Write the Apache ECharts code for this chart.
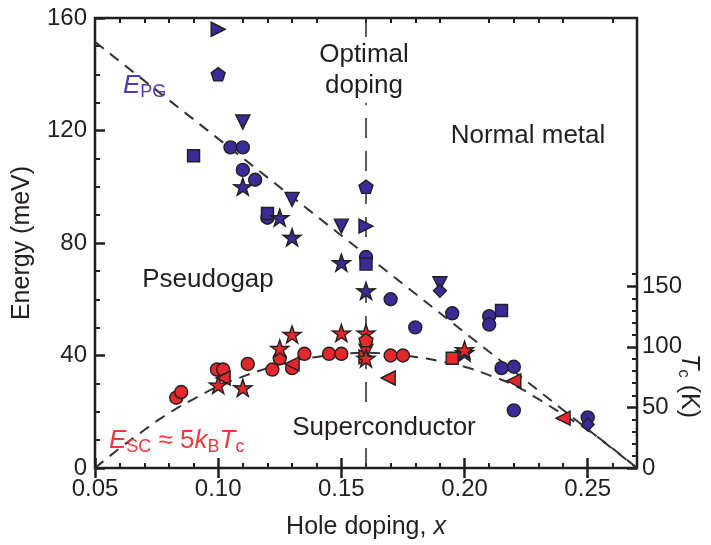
<!DOCTYPE html>
<html><head><meta charset="utf-8">
<script src="https://cdn.jsdelivr.net/npm/echarts@6/dist/echarts.min.js"></script>
<style>html,body{margin:0;padding:0;background:#fff}#c{width:711px;height:545px}</style>
</head><body><div id="c"></div>
<script>
const FONT = '"Liberation Sans", Arial, Helvetica, sans-serif';
const INK = '#231f20';
const BLUE = '#3a2b99';
const BLUE_TXT = '#4a3db4';
const RED = '#e3292b';
const RED_TXT = '#ea3a3f';

// axis ranges
const xMin = 0.05, xMax = 0.27;
const eMin = 0, eMax = 160;
const kB = 0.08617; // meV per K
const tcMax = eMax / (5 * kB);

// tick values
const xMajorTicks = [0.05, 0.10, 0.15, 0.20, 0.25];
const xMinorTicks = [0.06, 0.07, 0.08, 0.09, 0.11, 0.12, 0.13, 0.14, 0.16, 0.17, 0.18, 0.19, 0.21, 0.22, 0.23, 0.24, 0.26];
const tcMajorTicks = [0, 50, 100, 150];
const tcMinorTicks = [10, 20, 30, 40, 60, 70, 80, 90, 110, 120, 130, 140, 160];

// guide lines
const pgLine = [[0.05, 151.5], [0.27, 0]];
const scCurve = [[0.05, 0], [0.06, 7], [0.07, 13.5], [0.08, 19.5], [0.09, 24.5], [0.10, 29], [0.11, 32.5], [0.12, 35.5], [0.13, 38], [0.14, 39.5], [0.15, 40.5], [0.16, 41], [0.17, 40.5], [0.18, 39.5], [0.19, 38], [0.20, 36], [0.21, 33], [0.22, 29.5], [0.23, 24.5], [0.24, 19], [0.25, 13.5], [0.26, 7], [0.27, 0]];
const optimalDoping = 0.16;

// pseudogap energies (blue)
const pgCircle = [[0.105, 114], [0.11, 114], [0.11, 106], [0.115, 102.5], [0.12, 89], [0.16, 75], [0.17, 60], [0.18, 50], [0.195, 55], [0.21, 54], [0.21, 51], [0.215, 35.5], [0.22, 36], [0.22, 20.5], [0.25, 18]];
const pgSquare = [[0.09, 111], [0.12, 90.5], [0.16, 72.5], [0.215, 56]];
const pgTriDown = [[0.11, 123], [0.13, 95.5], [0.15, 86], [0.19, 65.5]];
const pgTriRight = [[0.10, 156], [0.16, 86]];
const pgPentagon = [[0.10, 140], [0.16, 100]];
const pgStar = [[0.11, 100], [0.125, 89], [0.13, 82], [0.15, 73], [0.16, 63], [0.20, 41]];
const pgDiamond = [[0.19, 63], [0.25, 15.5]];

// superconducting energies (red)
const scCircle = [[0.083, 25], [0.085, 27], [0.0995, 35], [0.102, 35], [0.112, 37], [0.122, 35], [0.125, 39], [0.13, 35.5], [0.135, 40.6], [0.145, 40.6], [0.15, 40.6], [0.17, 40], [0.175, 40]];
const scTriLeft = [[0.102, 32], [0.13, 37], [0.169, 32], [0.22, 31], [0.24, 17.7]];
const scTriRight = [[0.16, 39.5]];
const scTriDown = [[0.16, 41.5]];
const scStar = [[0.10, 29.5], [0.11, 28.5], [0.125, 42.5], [0.13, 47.5], [0.15, 48], [0.16, 48], [0.16, 39], [0.20, 42]];
const scSquare = [[0.195, 39]];
const scPentagon = [[0.16, 45.5]];

const STAR = 'path://M50,0 L61.8,35.1 L97.6,34.5 L68.8,56 L79.4,90.5 L50,69.5 L20.6,90.5 L31.2,56 L2.4,34.5 L38.2,35.1 Z';
const PENTA = 'path://M50,0 L97.6,34.5 L79.4,90.5 L20.6,90.5 L2.4,34.5 Z';

function marks(name, data, symbol, size, color, rotate) {
  return {
    name, type: 'scatter', data, symbol, symbolSize: size, symbolRotate: rotate || 0,
    symbolKeepAspect: true, xAxisIndex: 0, yAxisIndex: 0, z: 5,
    itemStyle: { color, opacity: 1, borderColor: INK, borderWidth: 1.4 },
    silent: true
  };
}

const chart = echarts.init(document.getElementById('c'), null, { renderer: 'canvas' });

const baseX = {
  type: 'value', min: xMin, max: xMax, gridIndex: 0,
  axisLine: { show: false }, splitLine: { show: false }
};
const labelStyle = { color: INK, fontFamily: FONT, fontSize: 24 };

const option = {
  animation: false,
  backgroundColor: '#fff',
  grid: { left: 95, right: 74, top: 18, bottom: 75, show: true, borderColor: INK, borderWidth: 2.5, backgroundColor: 'transparent' },
  xAxis: [
    Object.assign({}, baseX, {
      position: 'bottom',
      axisTick: { show: true, inside: true, length: 10, lineStyle: { color: INK, width: 2.5 }, customValues: xMajorTicks },
      axisLabel: Object.assign({}, labelStyle, { margin: 9, customValues: xMajorTicks, formatter: v => v.toFixed(2) }),
      name: 'Hole doping, {i|x}', nameLocation: 'middle', nameGap: 47,
      nameTextStyle: { color: INK, fontFamily: FONT, fontSize: 25, rich: { i: { fontStyle: 'italic', fontFamily: FONT, fontSize: 25, color: INK } } }
    }),
    Object.assign({}, baseX, {
      position: 'bottom',
      axisTick: { show: true, inside: true, length: 5, lineStyle: { color: INK, width: 2 }, customValues: xMinorTicks },
      axisLabel: { show: false }
    }),
    Object.assign({}, baseX, {
      position: 'top',
      axisTick: { show: true, inside: true, length: 10, lineStyle: { color: INK, width: 2.5 }, customValues: xMajorTicks },
      axisLabel: { show: false }
    }),
    Object.assign({}, baseX, {
      position: 'top',
      axisTick: { show: true, inside: true, length: 5, lineStyle: { color: INK, width: 2 }, customValues: xMinorTicks },
      axisLabel: { show: false }
    })
  ],
  yAxis: [
    {
      type: 'value', min: eMin, max: eMax, interval: 40, position: 'left',
      axisLine: { show: false }, splitLine: { show: false },
      axisTick: { show: true, inside: true, length: 10, lineStyle: { color: INK, width: 2.5 } },
      minorTick: { show: true, splitNumber: 4, length: 5, lineStyle: { color: INK, width: 2 } },
      axisLabel: Object.assign({}, labelStyle, { margin: 8 }),
      name: 'Energy (meV)', nameLocation: 'middle', nameGap: 60,
      nameTextStyle: { color: INK, fontFamily: FONT, fontSize: 25 }
    },
    {
      type: 'value', min: 0, max: tcMax, position: 'right',
      axisLine: { show: false }, splitLine: { show: false },
      axisTick: { show: true, inside: true, length: 10, lineStyle: { color: INK, width: 2.5 }, customValues: tcMajorTicks },
      axisLabel: Object.assign({}, labelStyle, { margin: 5, customValues: tcMajorTicks })
    },
    {
      type: 'value', min: 0, max: tcMax, position: 'right',
      axisLine: { show: false }, splitLine: { show: false },
      axisTick: { show: true, inside: true, length: 5, lineStyle: { color: INK, width: 2 }, customValues: tcMinorTicks },
      axisLabel: { show: false }
    }
  ],
  series: [
    { type: 'line', data: pgLine, symbol: 'none', silent: true, z: 2,
      lineStyle: { color: '#333', width: 2, type: [11, 8] } },
    { type: 'line', data: scCurve, symbol: 'none', smooth: true, silent: true, z: 2,
      lineStyle: { color: '#333', width: 2, type: [11, 8] } },
    { type: 'line', data: [[optimalDoping, eMin], [optimalDoping, eMax]], symbol: 'none', silent: true, z: 2,
      lineStyle: { color: '#333', width: 1.6, type: [20, 13] } },
    marks('pgCircle', pgCircle, 'circle', 13, BLUE),
    marks('pgSquare', pgSquare, 'rect', 12, BLUE),
    marks('pgTriDown', pgTriDown, 'triangle', 14, BLUE, 180),
    marks('pgTriRight', pgTriRight, 'triangle', 14, BLUE, -90),
    marks('pgPentagon', pgPentagon, PENTA, 14, BLUE),
    marks('pgStar', pgStar, STAR, 18, BLUE),
    marks('pgDiamond', pgDiamond, 'diamond', 13, BLUE),
    marks('scCircle', scCircle, 'circle', 13, RED),
    marks('scTriLeft', scTriLeft, 'triangle', 14, RED, 90),
    marks('scTriRight', scTriRight, 'triangle', 14, RED, -90),
    marks('scTriDown', scTriDown, 'triangle', 14, RED, 180),
    marks('scStar', scStar, STAR, 18, RED),
    marks('scSquare', scSquare, 'rect', 12, RED),
    marks('scPentagon', scPentagon, PENTA, 14, RED)
  ],
  graphic: [
    { type: 'text', x: 123, y: 86, z: 10, silent: true,
      style: { text: '{i|E}{s|PG}', align: 'left', verticalAlign: 'middle', textAlign: 'left', textVerticalAlign: 'middle',
        rich: { i: { fontFamily: FONT, fontSize: 26, fontStyle: 'italic', fill: BLUE_TXT, color: BLUE_TXT, lineHeight: 30, verticalAlign: 'middle' },
                s: { fontFamily: FONT, fontSize: 18, fill: BLUE_TXT, color: BLUE_TXT, lineHeight: 18, verticalAlign: 'bottom', padding: [0, 0, 0, 0] } } } },
    { type: 'text', x: 364, y: 70, z: 10, silent: true,
      style: { text: 'Optimal\ndoping', font: '26px ' + FONT, fill: INK, align: 'center', verticalAlign: 'middle', textAlign: 'center', textVerticalAlign: 'middle',
        lineHeight: 31, backgroundColor: '#fff', padding: [2, 6] } },
    { type: 'text', x: 528, y: 136, z: 10, silent: true,
      style: { text: 'Normal metal', font: '26px ' + FONT, fill: INK, align: 'center', verticalAlign: 'middle', textAlign: 'center', textVerticalAlign: 'middle' } },
    { type: 'text', x: 208, y: 280, z: 10, silent: true,
      style: { text: 'Pseudogap', font: '26px ' + FONT, fill: INK, align: 'center', verticalAlign: 'middle', textAlign: 'center', textVerticalAlign: 'middle' } },
    { type: 'text', x: 384, y: 428, z: 10, silent: true,
      style: { text: 'Superconductor', font: '26px ' + FONT, fill: INK, align: 'center', verticalAlign: 'middle', textAlign: 'center', textVerticalAlign: 'middle',
        backgroundColor: '#fff', padding: [0, 2] } },
    { type: 'text', x: 109, y: 441, z: 10, silent: true,
      style: { text: '{i|E}{s|SC}{n| ≈ 5}{i|k}{s|B}{i|T}{s|c}', align: 'left', verticalAlign: 'middle', textAlign: 'left', textVerticalAlign: 'middle',
        rich: { i: { fontFamily: FONT, fontSize: 26, fontStyle: 'italic', fill: RED_TXT, color: RED_TXT, lineHeight: 30, verticalAlign: 'middle' },
                n: { fontFamily: FONT, fontSize: 26, fill: RED_TXT, color: RED_TXT, lineHeight: 30, verticalAlign: 'middle' },
                s: { fontFamily: FONT, fontSize: 18, fill: RED_TXT, color: RED_TXT, lineHeight: 18, verticalAlign: 'bottom' } } } },
    { type: 'text', x: 689, y: 386, z: 10, silent: true, rotation: -Math.PI / 2,
      style: { text: '{i|T}{s|c}{n| (K)}', align: 'center', verticalAlign: 'middle', textAlign: 'center', textVerticalAlign: 'middle',
        rich: { i: { fontFamily: FONT, fontSize: 25, fontStyle: 'italic', fill: INK, color: INK, lineHeight: 28, verticalAlign: 'middle' },
                n: { fontFamily: FONT, fontSize: 25, fill: INK, color: INK, lineHeight: 28, verticalAlign: 'middle' },
                s: { fontFamily: FONT, fontSize: 17, fill: INK, color: INK, lineHeight: 17, verticalAlign: 'bottom' } } } }
  ]
};
chart.setOption(option);
</script>
</body></html>
